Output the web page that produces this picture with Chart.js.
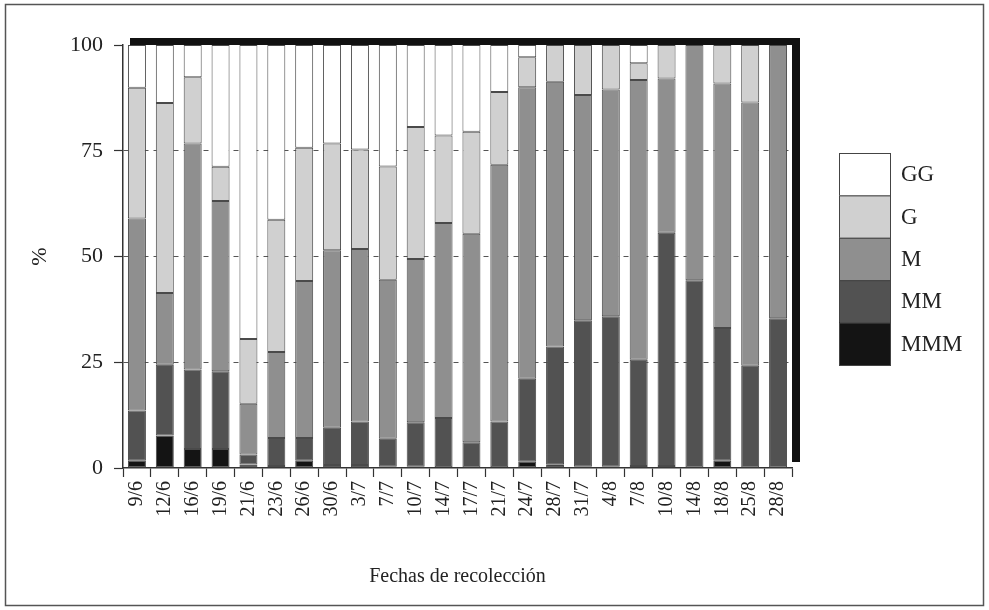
<!DOCTYPE html>
<html>
<head>
<meta charset="utf-8">
<script src="https://cdn.jsdelivr.net/npm/chart.js@4.4.1/dist/chart.umd.min.js"></script>
<style>
  html, body { margin: 0; padding: 0; background: #fff; }
</style>
</head>
<body>
<canvas id="calibreChart" width="989" height="610"></canvas>
<script>
// Fechas de recolección (eje X)
const fechas = ['9/6', '12/6', '16/6', '19/6', '21/6', '23/6', '26/6', '30/6', '3/7', '7/7', '10/7', '14/7',
                '17/7', '21/7', '24/7', '28/7', '31/7', '4/8', '7/8', '10/8', '14/8', '18/8', '25/8', '28/8'];

// Porcentaje de cada calibre por fecha
const mmm = [1.7, 7.7, 4.5, 4.5, 0.8, 0.5, 1.7, 0.7, 0.7, 0.3, 0.3, 0.2,
             0, 0.2, 1.5, 0.9, 0.3, 0.3, 0.5, 0.5, 0, 1.7, 0, 0];
const mm  = [11.9, 16.7, 18.8, 18.4, 2.4, 6.6, 5.4, 8.8, 10.3, 6.6, 10.5, 11.6,
             6.1, 10.8, 19.6, 27.8, 34.6, 35.6, 25.1, 55.1, 44.4, 31.4, 24.2, 35.4];
const m   = [45.4, 17.0, 53.4, 40.2, 12.0, 20.3, 37.1, 42.0, 40.8, 37.6, 38.6, 46.1,
             49.3, 60.7, 68.9, 62.6, 53.3, 53.6, 66.1, 36.5, 55.6, 57.8, 62.2, 64.6];
const g   = [30.9, 44.9, 15.7, 8.1, 15.3, 31.3, 31.5, 25.2, 23.5, 26.8, 31.2, 20.7,
             24.1, 17.2, 7.1, 8.7, 11.8, 10.5, 4.0, 7.9, 0, 9.1, 13.6, 0];
const gg  = [10.1, 13.7, 7.6, 28.8, 69.5, 41.3, 24.3, 23.3, 24.7, 28.7, 19.4, 21.4,
             20.5, 11.1, 2.9, 0, 0, 0, 4.3, 0, 0, 0, 0, 0];

const yTicks = [0, 25, 50, 75, 100];

const serif = '"Liberation Serif", "DejaVu Serif", serif';

// Marco exterior, sombra del área de trazado y leyenda apilada
const marcoPlugin = {
    id: 'marco',
    beforeDraw(chart) {
        const ctx = chart.ctx;
        ctx.save();
        ctx.fillStyle = '#fff';
        ctx.fillRect(0, 0, chart.width, chart.height);
        ctx.restore();
    },
    afterDraw(chart) {
        const ctx = chart.ctx;
        const a = chart.chartArea;
        ctx.save();

        ctx.strokeStyle = '#555';
        ctx.lineWidth = 1.5;
        ctx.strokeRect(5.5, 4.5, chart.width - 11, chart.height - 9);

        ctx.fillStyle = '#111';
        ctx.fillRect(a.left + 7, a.top - 7, a.right - a.left + 1, 7);
        ctx.fillRect(a.right, a.top - 7, 8, a.bottom - a.top + 1);

        const x0 = 839, w = 51, y0 = 153, h = 42.4;
        const orden = chart.data.datasets.slice().reverse();
        ctx.font = '23px ' + serif;
        ctx.textBaseline = 'middle';
        orden.forEach((ds, i) => {
            ctx.fillStyle = ds.backgroundColor;
            ctx.fillRect(x0, y0 + i * h, w, h);
            ctx.strokeStyle = '#444';
            ctx.lineWidth = 1;
            ctx.strokeRect(x0 + 0.5, y0 + i * h + 0.5, w, h);
            ctx.fillStyle = '#222';
            ctx.fillText(ds.label, 901, y0 + i * h + h / 2 + 1);
        });
        ctx.restore();
    }
};

function serie(label, data, color) {
    return {
        label: label,
        data: data,
        backgroundColor: color,
        borderColor: '#4a4a4a',
        borderWidth: c => (c.raw === 0 ? 0 : 1),
        borderSkipped: false,
        barPercentage: 0.645,
        categoryPercentage: 1.0
    };
}

new Chart(document.getElementById('calibreChart'), {
    type: 'bar',
    data: {
        labels: fechas,
        datasets: [
            serie('MMM', mmm, '#141414'),
            serie('MM', mm, '#525252'),
            serie('M', m, '#8f8f8f'),
            serie('G', g, '#d0d0d0'),
            serie('GG', gg, '#ffffff')
        ]
    },
    options: {
        responsive: false,
        animation: false,
        layout: { padding: { left: 0, top: 45, right: 197, bottom: 0 } },
        plugins: {
            legend: { display: false },
            tooltip: { enabled: false }
        },
        scales: {
            x: {
                stacked: true,
                grid: {
                    display: true,
                    drawOnChartArea: false,
                    drawTicks: true,
                    tickLength: 9,
                    tickColor: '#333',
                    tickWidth: 1.2,
                    offset: true
                },
                border: { color: '#333', width: 1.5 },
                ticks: {
                    font: { family: serif, size: 20 },
                    color: '#222',
                    minRotation: 90,
                    maxRotation: 90,
                    autoSkip: false,
                    padding: 4
                },
                title: {
                    display: true,
                    text: 'Fechas de recolección',
                    font: { family: serif, size: 20 },
                    color: '#222',
                    padding: { bottom: 21 }
                },
                afterFit(scale) { scale.height = 142; }
            },
            y: {
                stacked: true,
                min: 0,
                max: 100,
                afterBuildTicks(scale) { scale.ticks = yTicks.map(v => ({ value: v })); },
                grid: {
                    color: c => (c.tick && (c.tick.value === 0 || c.tick.value === 100)) ? 'rgba(0,0,0,0)' : '#555',
                    lineWidth: 1,
                    drawTicks: true,
                    tickLength: 9,
                    tickColor: '#333',
                    tickWidth: 1.2,
                    tickBorderDash: []
                },
                border: { color: '#333', width: 1.5, dash: [5, 5] },
                ticks: {
                    font: { family: serif, size: 22 },
                    color: '#222',
                    padding: 11
                },
                title: {
                    display: true,
                    text: '%',
                    font: { family: serif, size: 22 },
                    color: '#222',
                    padding: { top: 27 }
                },
                afterFit(scale) { scale.width = 123; }
            }
        }
    },
    plugins: [marcoPlugin]
});
</script>
</body>
</html>
